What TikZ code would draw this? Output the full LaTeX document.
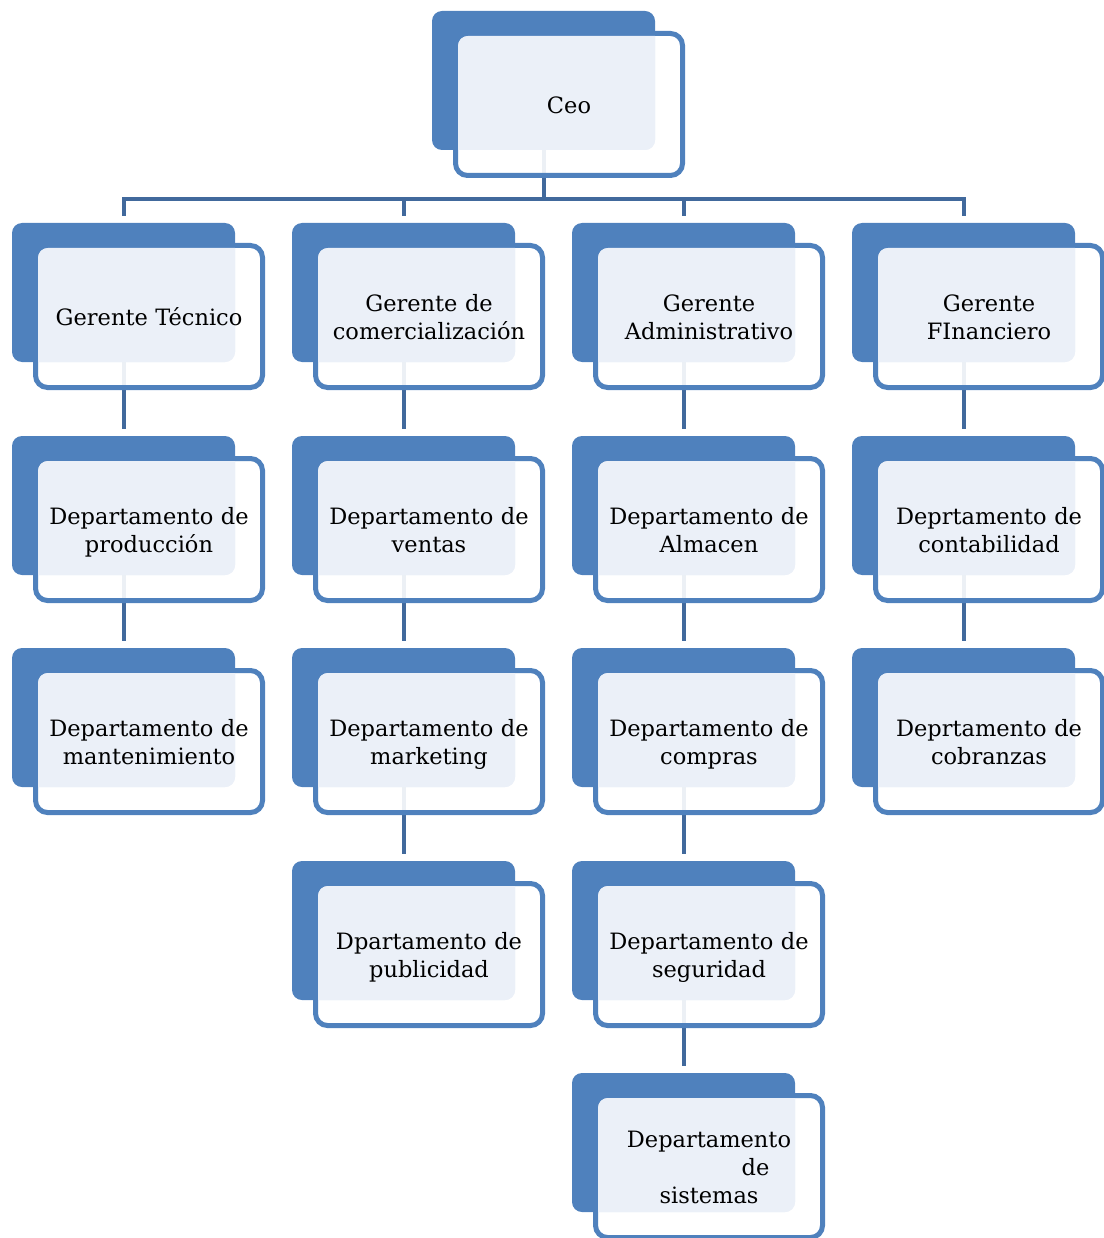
\documentclass[tikz,border=0pt]{standalone}
\usepackage{fontspec}
\setmainfont{DejaVu Serif}
\usetikzlibrary{backgrounds}
\definecolor{boxblue}{HTML}{4F81BD}
\definecolor{boxlight}{HTML}{EBF0F8}
\definecolor{linkblue}{HTML}{41699C}
\tikzset{
  backcard/.style={fill=boxblue, rounded corners=10pt},
  frontcard/.style={draw=boxblue, line width=5pt, fill=white, fill opacity=0.9, rounded corners=12pt},
  lightcard/.style={fill=boxlight, rounded corners=10pt},
  cardtext/.style={text width=225pt, align=center, inner sep=0pt,
    font=\fontsize{22.5}{28}\selectfont},
  link/.style={draw=linkblue, line width=4pt},
}
% #1 name, #2 x of the back card, #3 y of the back card, #4 text
\newcommand\orgcard[4]{%
  \fill[backcard] (#2,#3) rectangle ++(223,139);
  \draw[frontcard] (#2+23.5,#3+22.5) rectangle ++(227,142);
  \begin{scope}
    \clip[rounded corners=10pt] (#2+26,#3+25) rectangle ++(222,137);
    \fill[lightcard] (#2,#3) rectangle ++(223,139);
  \end{scope}
  \node[cardtext] (#1) at (#2+137,#3+96.5) {\strut#4\strut};
  \coordinate (#1-top) at (#2+111.5,#3-7);
  \coordinate (#1-bot) at (#2+111.5,#3+139);
}
\begin{document}
\begin{tikzpicture}[x=1pt,y=-1pt]
\useasboundingbox (0,0) rectangle (1103,1238);

\orgcard{ceo}{432}{11}{Ceo}

\orgcard{gt}{12}{223}{Gerente Técnico}
\orgcard{gc}{292}{223}{Gerente de\\comercialización}
\orgcard{ga}{572}{223}{Gerente\\Administrativo}
\orgcard{gf}{852}{223}{Gerente\\FInanciero}

\orgcard{dprod}{12}{436}{Departamento de\\producción}
\orgcard{dmant}{12}{648}{Departamento de\\mantenimiento}

\orgcard{dvent}{292}{436}{Departamento de\\ventas}
\orgcard{dmark}{292}{648}{Departamento de\\marketing}
\orgcard{dpub}{292}{861}{Dpartamento de\\publicidad}

\orgcard{dalm}{572}{436}{Departamento de\\Almacen}
\orgcard{dcomp}{572}{648}{Departamento de\\compras}
\orgcard{dseg}{572}{861}{Departamento de\\seguridad}
\orgcard{dsis}{572}{1073}{Departamento\\\hspace*{93pt}de\\sistemas}

\orgcard{dcont}{852}{436}{Deprtamento de\\contabilidad}
\orgcard{dcob}{852}{648}{Deprtamento de\\cobranzas}

\begin{scope}[on background layer]
  \coordinate (bus) at (ceo-bot |- 0,199);
  \draw[link] (ceo-bot) -- (bus);
  \draw[link] (gt-top) -- (gt-top |- bus) -- (gf-top |- bus) -- (gf-top);
  \draw[link] (gc-top |- bus) -- (gc-top);
  \draw[link] (ga-top |- bus) -- (ga-top);
  \draw[link] (gt-bot) -- (dprod-top);
  \draw[link] (dprod-bot) -- (dmant-top);
  \draw[link] (gc-bot) -- (dvent-top);
  \draw[link] (dvent-bot) -- (dmark-top);
  \draw[link] (dmark-bot) -- (dpub-top);
  \draw[link] (ga-bot) -- (dalm-top);
  \draw[link] (dalm-bot) -- (dcomp-top);
  \draw[link] (dcomp-bot) -- (dseg-top);
  \draw[link] (dseg-bot) -- (dsis-top);
  \draw[link] (gf-bot) -- (dcont-top);
  \draw[link] (dcont-bot) -- (dcob-top);
\end{scope}
\end{tikzpicture}
\end{document}
